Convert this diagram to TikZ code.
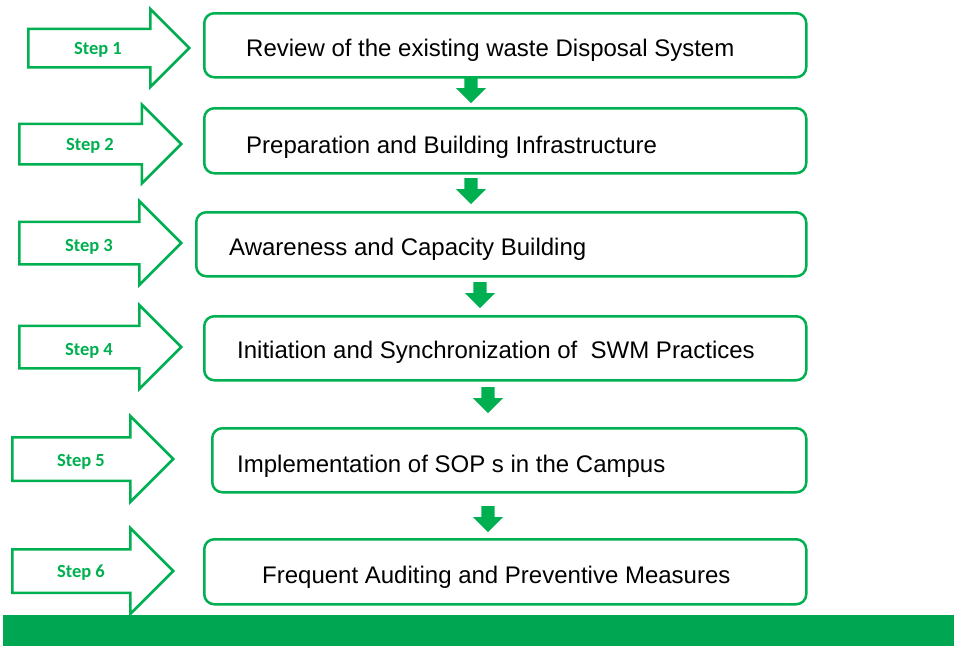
\documentclass[tikz,border=0pt]{standalone}
\usepackage{fontspec}
\setmainfont{Liberation Sans}
\newfontfamily\stepfont{Carlito}
\usetikzlibrary{shapes.arrows}
\definecolor{officegreen}{HTML}{00B050}
\definecolor{bargreen}{HTML}{00A651}

\begin{document}
\begin{tikzpicture}[x=1pt,y=-1pt,
  stage/.style={draw=officegreen,line width=2.5pt,rounded corners=10pt,anchor=north west,inner sep=0pt},
  stagetext/.style={anchor=base west,inner sep=0pt,font=\fontsize{24}{28}\selectfont},
  steparrow/.style={single arrow,draw=officegreen,line width=2.5pt,anchor=tail,inner xsep=0pt},
  steplabel/.style={anchor=base,inner sep=0pt,text=officegreen,font=\stepfont\bfseries\fontsize{18.5}{22}\selectfont},
  downarrow/.style={single arrow,fill=officegreen,rotate=-90,anchor=tail,inner sep=0pt,inner ysep=6.5pt,
    minimum height=26pt,single arrow head extend=8.5pt}]
  \useasboundingbox (0,0) rectangle (954,646);
  \foreach \i/\x/\y/\s/\h/\l/\lx/\ly in {1/27/48/36/75/161/98/54, 2/18/144/38/76/162/90/150,
      3/18/243/40/81/162/89/251, 4/18/347/40/81/162/89/355,
      5/11/459/41/83/161/81/466, 6/11/571/41/83/161/81/577}{
    \node[steparrow,inner ysep=\s/2,single arrow head extend=(\h-\s)/2,minimum height=\l] (a\i) at (\x,\y) {};
    \node[steplabel] (s\i) at (\lx,\ly) {Step \i};
  }
  \foreach \i/\x/\ya/\yb/\tx/\ty/\txt in {1/203/12/76/246/56/{Review of the existing waste Disposal System},
      2/203/107/172/246/153/{Preparation and Building Infrastructure},
      3/195/211/275/229/255/{Awareness and Capacity Building},
      4/203/315/379/237/358/{Initiation and Synchronization of \ SWM Practices},
      5/211/427/491/237/472/{Implementation of SOP s in the Campus},
      6/203/538/603/262/583/{Frequent Auditing and Preventive Measures}}{
    \node[stage,minimum width=805-\x,minimum height=\yb-\ya] (b\i) at (\x,\ya) {};
    \node[stagetext] (t\i) at (\tx,\ty) {\txt};
  }
  \foreach \i/\x/\y in {1/471/77, 2/471/178, 3/480/282, 4/488/387, 5/488/506}
    \node[downarrow] (d\i) at (\x,\y) {};
  \fill[bargreen] (3,615) rectangle (954,646);
\end{tikzpicture}
\end{document}
